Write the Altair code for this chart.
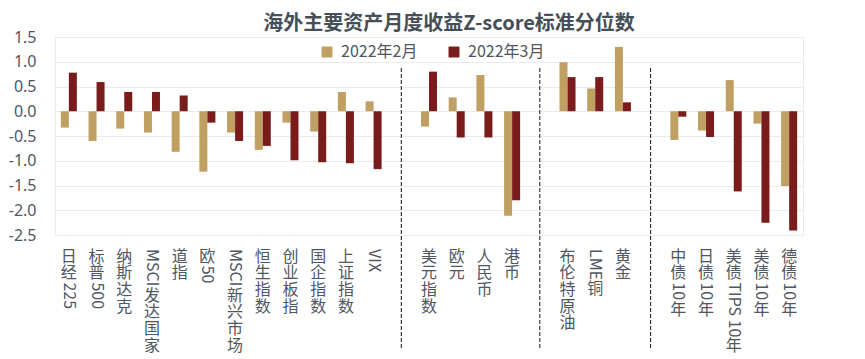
import re
import altair as alt
import pandas as pd

title = "海外主要资产月度收益Z-score标准分位数"
series = ["2022年2月", "2022年3月"]
colors = ["#C0A062", "#7B1C1C"]

equity = ["日经225", "标普500", "纳斯达克", "MSCI发达国家", "道指", "欧50", "MSCI新兴市场",
          "恒生指数", "创业板指", "国企指数", "上证指数", "VIX"]
fx = ["美元指数", "欧元", "人民币", "港币"]
commodity = ["布伦特原油", "LME铜", "黄金"]
bonds = ["中债10年", "日债10年", "美债TIPS 10年", "美债10年", "德债10年"]

feb_equity = [-0.33, -0.60, -0.35, -0.43, -0.82, -1.22, -0.43, -0.78, -0.23, -0.41, 0.39, 0.20]
mar_equity = [0.78, 0.59, 0.39, 0.39, 0.32, -0.23, -0.60, -0.70, -0.99, -1.03, -1.05, -1.17]
feb_fx = [-0.31, 0.28, 0.73, -2.11]
mar_fx = [0.80, -0.53, -0.53, -1.80]
feb_cmd = [0.99, 0.46, 1.30]
mar_cmd = [0.69, 0.69, 0.18]
feb_bond = [-0.58, -0.39, 0.63, -0.25, -1.51]
mar_bond = [-0.11, -0.52, -1.62, -2.25, -2.41]

separators = [" ", "  ", "   "]
y_ticks = [-2.5, -2.0, -1.5, -1.0, -0.5, 0.0, 0.5, 1.0, 1.5]

W, H = 748, 198
TEXT = "#4f5761"
GRID = "#ebebeb"
CJK = "Noto Sans CJK SC"

domain = equity + [separators[0]] + fx + [separators[1]] + commodity + [separators[2]] + bonds
cats = equity + fx + commodity + bonds
febs = feb_equity + feb_fx + feb_cmd + feb_bond
mars = mar_equity + mar_fx + mar_cmd + mar_bond

rows = []
for c, f, m in zip(cats, febs, mars):
    rows.append({"cat": c, "series": series[0], "value": f})
    rows.append({"cat": c, "series": series[1], "value": m})
df = pd.DataFrame(rows)

# vertical label layout (CJK upright, Latin runs rotated)
FS = 16
em = {"M": .86, "S": .57, "C": .63, "I": .30, "V": .60, "X": .58, "L": .52, "E": .57,
      "T": .55, "P": .62, " ": .25}
def run_width(s):
    return sum(em.get(ch, .57) for ch in s) * FS

lab_rows = []
for c in cats:
    y = H + 13
    for seg in re.findall(r"[A-Za-z0-9 ]+|[^A-Za-z0-9 ]", c):
        if re.match(r"[A-Za-z0-9 ]", seg):
            lab_rows.append({"cat": c, "text": seg, "py": y + 1, "kind": "latin"})
            y += run_width(seg) + 1.5
        else:
            lab_rows.append({"cat": c, "text": seg, "py": y + 8.5, "kind": "cjk"})
            y += 16.7
lab = pd.DataFrame(lab_rows)
sep_df = pd.DataFrame({"cat": separators})

xscale = alt.Scale(domain=domain, paddingInner=0, paddingOuter=0)

bars = alt.Chart(df).mark_bar().encode(
    x=alt.X("cat:N", scale=xscale, sort=None,
            axis=alt.Axis(labels=False, ticks=False, domain=False, grid=True,
                          bandPosition=0, gridColor=GRID, title=None)),
    xOffset=alt.XOffset("series:N", sort=series,
                        scale=alt.Scale(domain=series, paddingInner=0, paddingOuter=0.73)),
    y=alt.Y("value:Q", scale=alt.Scale(domain=[-2.5, 1.5], nice=False, zero=True),
            axis=alt.Axis(values=y_ticks, ticks=False, domain=False, grid=True,
                          gridColor=GRID, labelFontSize=16, labelFont="Noto Sans",
                          labelColor=TEXT, labelPadding=19, title=None,
                          labelExpr="(datum.value < 0 ? '-' : '') + format(abs(datum.value), '.1f')")),
    color=alt.Color("series:N",
                    scale=alt.Scale(domain=series, range=colors),
                    legend=alt.Legend(title=None, orient="none", legendX=264, legendY=7,
                                      direction="horizontal", symbolType="square",
                                      symbolSize=120, symbolStrokeWidth=0,
                                      labelFontSize=16, labelFont=CJK, labelColor=TEXT,
                                      columnPadding=28, labelOffset=6)),
)

rules = alt.Chart(sep_df).mark_rule(color="#111111", strokeDash=[4, 2], strokeWidth=1).encode(
    x=alt.X("cat:N", scale=xscale, sort=None, axis=None),
    y=alt.value(31),
    y2=alt.value(311),
)

cjk = alt.Chart(lab[lab.kind == "cjk"]).mark_text(
    font=CJK, fontSize=FS, color=TEXT, align="center", baseline="middle"
).encode(
    x=alt.X("cat:N", scale=xscale, sort=None, axis=None),
    y=alt.Y("py:Q", scale=None, axis=None),
    text="text:N",
)

latin = alt.Chart(lab[lab.kind == "latin"]).mark_text(
    font=CJK, fontSize=FS, color=TEXT, align="left", baseline="middle", angle=90
).encode(
    x=alt.X("cat:N", scale=xscale, sort=None, axis=None),
    y=alt.Y("py:Q", scale=None, axis=None),
    text="text:N",
)

chart = alt.layer(bars, rules, cjk, latin).resolve_scale(y="independent").properties(
    width=W, height=H,
    padding={"left": 0, "top": 6, "right": 5, "bottom": 0},
    title=alt.TitleParams(title, font=CJK, fontSize=20, fontWeight="bold", color="#464e58",
                          anchor="middle", offset=-5, dx=20),
).configure_view(stroke=GRID).configure_axis(labelFont="Noto Sans")

chart.save("out.html", embed_options={"renderer": "svg", "actions": False})
